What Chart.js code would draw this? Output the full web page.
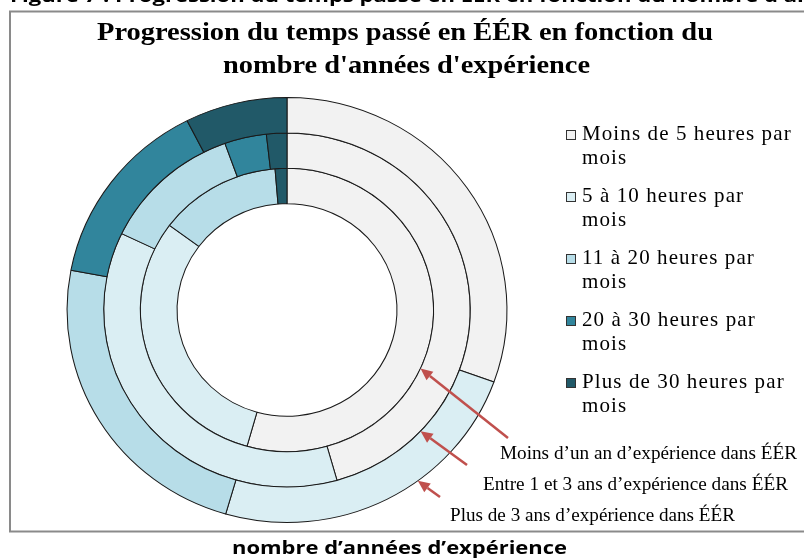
<!DOCTYPE html>
<html>
<head>
<meta charset="utf-8">
<script src="https://cdn.jsdelivr.net/npm/chart.js@4.4.1/dist/chart.umd.min.js"></script>
<style>
  html, body { margin: 0; padding: 0; background: #fff; }
  #c { display: block; }
</style>
</head>
<body>
<canvas id="c" width="804" height="559"></canvas>
<script>
// categories (clockwise, from the top)
const categories = [
    "Moins de 5 heures par mois",
    "5 à 10 heures par mois",
    "11 à 20 heures par mois",
    "20 à 30 heures par mois",
    "Plus de 30 heures par mois"
];
const colors = ["#F2F2F2", "#DAEEF3", "#B7DDE8", "#31859C", "#215968"];

// % of respondents, outer ring first
const plus3ans = [30.5, 24.0, 23.5, 14.5, 7.5];
const entre1et3ans = [45.6, 36.5, 12.4, 3.7, 1.8];
const moins1an = [54.4, 30.8, 13.5, 0, 1.3];

const ringNames = [
    "Plus de 3 ans d’expérience dans ÉÉR",
    "Entre 1 et 3 ans d’expérience dans ÉÉR",
    "Moins d’un an d’expérience dans ÉÉR"
];

const titleLines = ["Progression du temps passé en ÉÉR en fonction du", "nombre d'années d'expérience"];
const captionTop = "Figure 7 : Progression du temps passé en ÉÉR en fonction du nombre d'années d'expérience";
const captionBottom = "nombre d’années d’expérience";

const STRETCH_X = 1.035; // the pie in the picture is a little wider than tall

function fitText(ctx, text, x, y, width) {
    const w = ctx.measureText(text).width;
    ctx.save();
    ctx.translate(x, y);
    ctx.scale(width / w, 1);
    ctx.fillText(text, 0, 0);
    ctx.restore();
}

function drawArrow(ctx, x0, y0, x1, y1) {
    const a = Math.atan2(y1 - y0, x1 - x0);
    const head = 12, half = 5.5;
    ctx.beginPath();
    ctx.moveTo(x0, y0);
    ctx.lineTo(x1 - head * Math.cos(a), y1 - head * Math.sin(a));
    ctx.stroke();
    ctx.beginPath();
    ctx.moveTo(x1, y1);
    ctx.lineTo(x1 - head * Math.cos(a) + half * Math.sin(a), y1 - head * Math.sin(a) - half * Math.cos(a));
    ctx.lineTo(x1 - head * Math.cos(a) - half * Math.sin(a), y1 - head * Math.sin(a) + half * Math.cos(a));
    ctx.closePath();
    ctx.fill();
}

const stretchPlugin = {
    id: 'stretch',
    beforeDatasetsDraw(chart) {
        const cx = chart.getDatasetMeta(0).data[0].x;
        const ctx = chart.ctx;
        ctx.save();
        ctx.translate(cx, 0);
        ctx.scale(STRETCH_X, 1);
        ctx.translate(-cx, 0);
    },
    afterDatasetsDraw(chart) {
        chart.ctx.restore();
    }
};

const decorPlugin = {
    id: 'decor',
    afterDraw(chart) {
        const ctx = chart.ctx;
        ctx.save();

        // frame of the figure
        ctx.strokeStyle = "#8a8a8a";
        ctx.lineWidth = 2;
        ctx.strokeRect(10, 11.5, 900, 520);

        // caption lines of the document (top one is cut by the screenshot)
        ctx.fillStyle = "#000";
        ctx.textBaseline = "alphabetic";
        ctx.font = "bold 18px 'Open Sans'";
        fitText(ctx, captionTop, 10, 2, 1000);
        fitText(ctx, captionBottom, 232, 554, 335);

        // title
        ctx.font = "bold 25px 'Liberation Serif'";
        fitText(ctx, titleLines[0], 97, 40, 616);
        fitText(ctx, titleLines[1], 223, 73, 367);

        // legend
        ctx.font = "21px 'Liberation Serif'";
        ctx.letterSpacing = "1.1px";
        categories.forEach((label, i) => {
            const cut = label.lastIndexOf(' ');
            const y = 140 + i * 62;
            ctx.fillStyle = colors[i];
            ctx.fillRect(566, y - 10, 10, 10);
            ctx.strokeStyle = "#333";
            ctx.lineWidth = 1;
            ctx.strokeRect(566.5, y - 9.5, 9, 9);
            ctx.fillStyle = "#000";
            ctx.fillText(label.slice(0, cut), 582, y);
            ctx.fillText(label.slice(cut + 1), 582, y + 24);
        });
        ctx.letterSpacing = "0px";

        // ring names with arrows
        const notes = [
            { ring: 2, angle: 114.4, tail: [508, 438], x: 500, w: 297, y: 459 },
            { ring: 1, angle: 133.2, tail: [467, 465], x: 483, w: 305, y: 490 },
            { ring: 0, angle: 143.5, tail: [440, 497], x: 450, w: 285, y: 521 }
        ];
        ctx.font = "18px 'Liberation Serif'";
        notes.forEach(n => {
            const arc = chart.getDatasetMeta(n.ring).data[0];
            const t = n.angle * Math.PI / 180;
            const tipX = arc.x + STRETCH_X * arc.outerRadius * Math.sin(t);
            const tipY = arc.y - arc.outerRadius * Math.cos(t);
            ctx.strokeStyle = "#C0504D";
            ctx.fillStyle = "#C0504D";
            ctx.lineWidth = 2.5;
            drawArrow(ctx, n.tail[0], n.tail[1], tipX, tipY);
            ctx.fillStyle = "#000";
            fitText(ctx, ringNames[n.ring], n.x, n.y, n.w);
        });

        ctx.restore();
    }
};

new Chart(document.getElementById('c'), {
    type: 'doughnut',
    data: {
        labels: categories,
        datasets: [
            { label: ringNames[0], data: plus3ans, backgroundColor: colors, borderColor: "#1a1a1a", borderWidth: 1 },
            { label: ringNames[1], data: entre1et3ans, backgroundColor: colors, borderColor: "#1a1a1a", borderWidth: 1 },
            { label: ringNames[2], data: moins1an, backgroundColor: colors, borderColor: "#1a1a1a", borderWidth: 1 }
        ]
    },
    options: {
        responsive: false,
        animation: false,
        events: [],
        cutout: '50%',
        layout: { padding: { left: 74, right: 304, top: 97, bottom: 36 } },
        plugins: {
            legend: { display: false },
            tooltip: { enabled: false },
            title: { display: false }
        }
    },
    plugins: [stretchPlugin, decorPlugin]
});
</script>
</body>
</html>
